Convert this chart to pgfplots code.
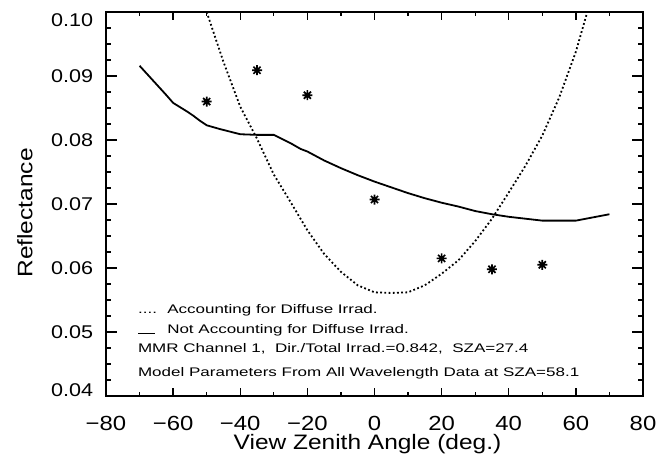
\documentclass[border=0pt]{standalone}
\usepackage{fontspec}
\setmainfont{Liberation Sans}[FakeStretch=1.17]
\usepackage{graphicx}
\usepackage{pgfplots}
\pgfplotsset{compat=1.18}

\pgfdeclareplotmark{ast8}{%
  \pgfpathmoveto{\pgfpoint{-\pgfplotmarksize}{0pt}}\pgfpathlineto{\pgfpoint{\pgfplotmarksize}{0pt}}%
  \pgfpathmoveto{\pgfpoint{0pt}{-\pgfplotmarksize}}\pgfpathlineto{\pgfpoint{0pt}{\pgfplotmarksize}}%
  \pgfpathmoveto{\pgfpoint{-0.707\pgfplotmarksize}{-0.707\pgfplotmarksize}}\pgfpathlineto{\pgfpoint{0.707\pgfplotmarksize}{0.707\pgfplotmarksize}}%
  \pgfpathmoveto{\pgfpoint{-0.707\pgfplotmarksize}{0.707\pgfplotmarksize}}\pgfpathlineto{\pgfpoint{0.707\pgfplotmarksize}{-0.707\pgfplotmarksize}}%
  \pgfusepathqstroke}

\newcommand{\leg}[1]{\scalebox{1.167}[1]{\fontsize{12.5}{14}\selectfont #1}}

\pgfplotsset{
  common/.style={
    scale only axis, width=537bp, height=384bp,
    xmin=-80, xmax=80, ymin=0.04, ymax=0.10,
  }
}

\begin{document}
\begin{tikzpicture}
% data
\begin{axis}[common, hide axis, clip=true]
\addplot[black, line width=1.8bp] coordinates {
(-70,0.0916) (-62,0.0870) (-60,0.0858) (-56,0.0845) (-54,0.0838)
(-52,0.0830) (-50,0.0823) (-46,0.0817) (-40,0.0809) (-35,0.0808) (-30,0.0808)
(-25,0.0795) (-22,0.0786) (-20,0.0782) (-15,0.0768) (-10,0.0756) (-5,0.0745)
(0,0.0735) (5,0.0726) (10,0.0717) (15,0.0709) (20,0.0702) (25,0.0696)
(30,0.0689) (35,0.0684) (40,0.0680) (45,0.0677) (50,0.0674) (55,0.0674)
(60,0.0674) (65,0.0679) (70,0.0684)
};
\addplot[black, line width=1.8bp, dash pattern=on 1.8bp off 2.4bp] coordinates {
(-50,0.1000) (-45,0.0922) (-40,0.0852) (-35,0.0802) (-30,0.0746) (-25,0.0703)
(-20,0.0659) (-15,0.0622) (-10,0.0594) (-5,0.0573) (0,0.0562) (5,0.0561)
(10,0.0562) (15,0.0573) (20,0.0591) (25,0.0612) (30,0.0642) (35,0.0677)
(40,0.0718) (45,0.0760) (50,0.0807) (55,0.0866) (60,0.0938) (63.4,0.1000)
};
\addplot[black, only marks, mark=ast8, mark size=5bp, line width=1.7bp] coordinates {
(-50,0.0860) (-35,0.0909) (-20,0.0870) (0,0.0707) (20,0.0615) (35,0.0598) (50,0.0605)
};
\end{axis}
% frame, tick labels, legend
\begin{axis}[common,
  axis line style={line width=1.6bp},
  major tick length=0pt, minor tick length=0pt,
  xtick={-80,-60,...,80},
  xticklabels={−80,−60,−40,−20,0,20,40,60,80},
  xticklabel style={font=\fontsize{20.5}{22}\selectfont, anchor=base, inner sep=0pt, yshift=-34bp},
  xlabel={View Zenith Angle (deg.)},
  xlabel style={font=\fontsize{21}{23}\selectfont, at={(axis description cs:0.487,-0.1406)}, anchor=base, inner sep=0pt},
  ytick={0.04,0.05,0.06,0.07,0.08,0.09,0.10},
  yticklabels={\raisebox{6bp}{0.04},0.05,0.06,0.07,0.08,0.09,\raisebox{-8bp}{0.10}},
  yticklabel style={font=\fontsize{18.5}{20}\selectfont, anchor=base east, inner sep=0pt, xshift=-12.7bp, yshift=-6.7bp},
  ylabel={Reflectance},
  ylabel style={font=\fontsize{21}{23}\selectfont, at={(axis description cs:-0.1369,0.4766)}, anchor=base, inner sep=0pt},
]
\coordinate (sw) at (rel axis cs:0,0);
\addplot[draw=none] coordinates {(0,0.05)};
\node[anchor=base west, inner sep=0pt] at (axis cs:-70.5,0.052813) {\leg{\makebox[25bp][l]{....}Accounting for Diffuse Irrad.}};
\node[anchor=base west, inner sep=0pt] at (axis cs:-70.5,0.049688) {\leg{\makebox[25bp][l]{\rule{14.5bp}{1.4bp}}Not Accounting for Diffuse Irrad.}};
\node[anchor=base west, inner sep=0pt] at (axis cs:-70.5,0.046719) {\leg{MMR Channel 1,\ \ Dir./Total Irrad.=0.842,\ \ SZA=27.4}};
\node[anchor=base west, inner sep=0pt] at (axis cs:-70.5,0.043125) {\leg{Model Parameters From All Wavelength Data at SZA=58.1}};
\end{axis}
% inward ticks on all four sides (x every 10, y every 0.0025)
\foreach \i in {1,...,15} {
  \pgfmathsetmacro{\len}{ifthenelse(mod(\i,2)==0,7.7,3.8)}
  \draw[line width=1.3bp] ([shift={(\i*33.5625bp,0)}]sw) -- ++(0,\len bp);
  \draw[line width=1.3bp] ([shift={(\i*33.5625bp,384bp)}]sw) -- ++(0,-\len bp);
}
\foreach \i in {1,...,23} {
  \pgfmathsetmacro{\len}{ifthenelse(mod(\i,4)==0,11,5.4)}
  \draw[line width=1.3bp] ([shift={(0,\i*16bp)}]sw) -- ++(\len bp,0);
  \draw[line width=1.3bp] ([shift={(537bp,\i*16bp)}]sw) -- ++(-\len bp,0);
}
\pgfresetboundingbox
\path[use as bounding box] ([shift={(-106bp,-65bp)}]sw) rectangle ([shift={(556bp,396bp)}]sw);
\end{tikzpicture}
\end{document}
